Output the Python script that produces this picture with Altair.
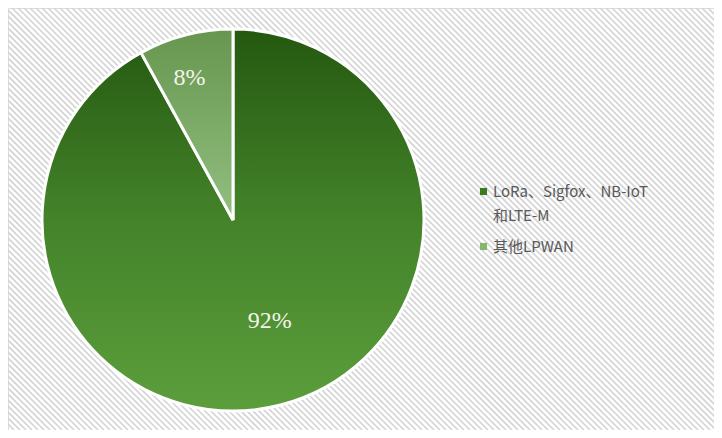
import altair as alt
import pandas as pd

# ---- data ----
categories = ["LoRa、Sigfox、NB-IoT和LTE-M", "其他LPWAN"]
values = [92, 8]
labels = ["92%", "8%"]
legend_first_lines = ["LoRa、Sigfox、NB-IoT", "和LTE-M"]

df = pd.DataFrame({"cat": categories, "val": values, "lab": labels, "ord": list(range(len(categories)))})

W, H = 706, 422
CX, CY, R = 225, 212, 191

base = alt.Chart(df).transform_joinaggregate(
    total="sum(val)"
).transform_window(
    cum="sum(val)", sort=[alt.SortField("ord")]
).transform_calculate(
    t0="2*PI*(datum.cum - datum.val)/datum.total",
    t1="2*PI*datum.cum/datum.total",
    tm="PI*(2*datum.cum - datum.val)/datum.total",
)

# background diagonal hatch
stripes = alt.Chart(alt.sequence(0, 200, as_="i")).transform_calculate(
    x0=f"datum.i*6 - {H}", x1="datum.i*6"
).mark_rule(stroke="#d4d4d4", strokeWidth=1.6, clip=True).encode(
    x=alt.X("x0:Q", scale=None), x2="x1:Q", y=alt.value(0), y2=alt.value(H)
)

grad_main = alt.Gradient(
    gradient="linear", x1=0, x2=0, y1=0, y2=1,
    stops=[alt.GradientStop(color="#245810", offset=0),
           alt.GradientStop(color="#44832a", offset=0.5),
           alt.GradientStop(color="#5c9e3c", offset=1)],
)
grad_other = alt.Gradient(
    gradient="linear", x1=0, x2=0, y1=0, y2=1,
    stops=[alt.GradientStop(color="#66964f", offset=0),
           alt.GradientStop(color="#93bf80", offset=1)],
)

def slice_layer(cat, fill):
    return base.transform_filter(alt.datum.cat == cat).mark_arc(
        radius=R, fill=fill, stroke="white", strokeWidth=3
    ).encode(
        theta=alt.Theta("t0:Q", scale=None),
        theta2="t1:Q",
        x=alt.value(CX), y=alt.value(CY),
    )

arc_main = slice_layer(categories[0], grad_main)
arc_other = slice_layer(categories[1], grad_other)

def label_layer(cat, rad, dx):
    return base.transform_filter(alt.datum.cat == cat).mark_text(
        font="Liberation Serif", fontSize=24, color="#f4f4ec", radius=rad, dx=dx
    ).encode(
        theta=alt.Theta("tm:Q", scale=None),
        text="lab:N",
        x=alt.value(CX), y=alt.value(CY),
    )

lab_main = label_layer(categories[0], 104, 11)
lab_other = label_layer(categories[1], 147, -7)

legend_expr = (
    f"datum.label == '{categories[0]}' ? ['{legend_first_lines[0]}', '{legend_first_lines[1]}'] : datum.label"
)

legend_layer = alt.Chart(df).mark_arc(radius=0).encode(
    color=alt.Color(
        "cat:N",
        scale=alt.Scale(domain=categories, range=["#3c7a20", "#86b56f"]),
        legend=alt.Legend(
            title=None, orient="none", legendX=468, legendY=176,
            symbolType="square", symbolSize=50, symbolOpacity=1, symbolStrokeWidth=0,
            labelFont="Noto Sans CJK SC", labelFontSize=15, labelColor="#595959",
            labelExpr=legend_expr, labelLimit=300, rowPadding=15, labelOffset=2,
        ),
    ),
    x=alt.value(CX), y=alt.value(CY),
)

chart = alt.layer(stripes, arc_main, arc_other, lab_main, lab_other, legend_layer).properties(
    width=W, height=H, padding=0, autosize=alt.AutoSizeParams(type="none"),
    background="white",
).configure_view(stroke="#d0d0d0", strokeWidth=1.5).configure(
    style={"guide-label": {"lineHeight": 24}}
)

chart.save("out.html", embed_options={"renderer": "svg", "actions": False})
